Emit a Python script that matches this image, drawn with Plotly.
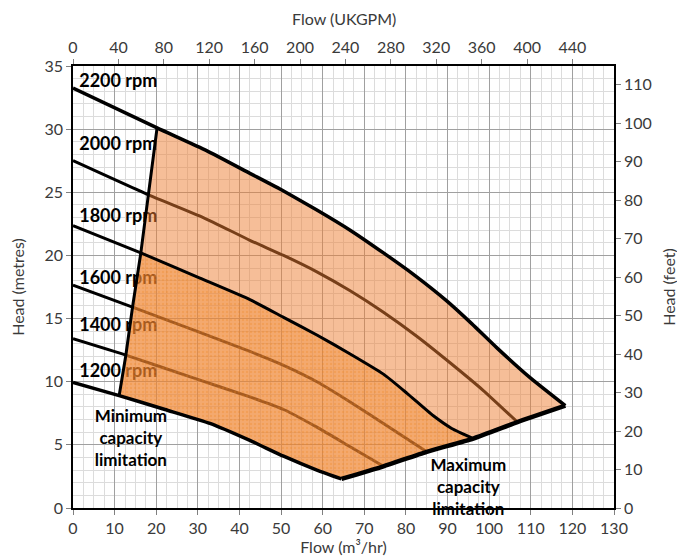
import plotly.graph_objects as go

# ---------------- data (Flow m3/hr, Head m) ----------------
rpm_labels = ["2200 rpm", "2000 rpm", "1800 rpm", "1600 rpm", "1400 rpm", "1200 rpm"]
label_heads = [33.7, 28.7, 23.0, 18.1, 14.4, 10.7]

x_2200 = [0, 20.2, 32.1, 42.5, 50.6, 58.6, 66.6, 74.6, 81.8, 89.8, 95.8, 101.8, 109.9, 118.3]
y_2200 = [33.25, 30.1, 28.3, 26.5, 25.1, 23.6, 22.0, 20.2, 18.5, 16.4, 14.6, 12.7, 10.3, 8.1]

x_2000 = [0, 18.1, 31.3, 42.5, 50.6, 58.6, 66.6, 74.6, 82.6, 90.6, 98.6, 106.8]
y_2000 = [27.5, 24.8, 23.0, 21.2, 20.0, 18.7, 17.2, 15.5, 13.6, 11.5, 9.3, 6.8]

x_1800 = [0, 16.3, 30.5, 42.5, 50.6, 58.6, 66.6, 74.6, 80.2, 86.6, 91.0, 96.2]
y_1800 = [22.35, 20.2, 18.2, 16.5, 15.1, 13.7, 12.2, 10.6, 9.1, 7.3, 6.3, 5.5]

x_1600 = [0, 14.3, 29.7, 42.5, 50.6, 58.6, 66.6, 74.6, 85.0]
y_1600 = [17.65, 15.9, 14.0, 12.4, 11.3, 10.0, 8.4, 6.7, 4.45]

x_1400 = [0, 12.7, 28.9, 42.5, 50.6, 58.6, 66.6, 74.6]
y_1400 = [13.4, 12.1, 10.3, 8.8, 7.8, 6.4, 4.85, 3.3]

x_1200 = [0, 11.1, 22.1, 32.9, 42.5, 50.6, 58.6, 64.5]
y_1200 = [9.95, 8.9, 7.8, 6.7, 5.35, 4.1, 3.0, 2.3]

x_min_cap = [20.2, 18.1, 16.3, 14.3, 12.7, 11.1]
y_min_cap = [30.1, 24.8, 20.2, 15.9, 12.1, 8.9]

x_max_cap = [64.5, 74.6, 85.0, 96.2, 106.8, 118.3]
y_max_cap = [2.3, 3.3, 4.45, 5.5, 6.8, 8.1]

M3H_TO_UKGPM = 3.666
M_TO_FT = 3.28084
X_MAX = 130
Y_MAX = 35

FONT = "Lato"
fig = go.Figure()

SPL = dict(shape="spline", smoothing=0.5)

# inner rpm curves (drawn under the fills)
for xs, ys in [(x_2000, y_2000), (x_1600, y_1600), (x_1400, y_1400)]:
    fig.add_trace(go.Scatter(x=xs, y=ys, mode="lines", line=dict(color="black", width=3, **SPL),
                             showlegend=False, hoverinfo="skip"))

# rpm labels (under the fills)
fig.add_trace(go.Scatter(x=[1.5] * len(rpm_labels), y=label_heads, text=rpm_labels, mode="text",
                         textposition="middle right",
                         textfont=dict(family=FONT, size=18, color="black", weight="bold"),
                         showlegend=False, hoverinfo="skip"))

# light operating region: 2200 curve -> max capacity -> 1200 curve -> min capacity
lx = x_2200[1:] + x_max_cap[::-1][1:] + x_1200[::-1][1:-1] + x_min_cap[::-1][1:]
ly = y_2200[1:] + y_max_cap[::-1][1:] + y_1200[::-1][1:-1] + y_min_cap[::-1][1:]
fig.add_trace(go.Scatter(x=lx, y=ly, fill="toself", mode="none",
                         fillcolor="rgba(237,125,49,0.5)", showlegend=False, hoverinfo="skip"))

# dark region (below 1800 rpm)
dx = x_1800[1:] + x_max_cap[::-1][3:] + x_1200[::-1][1:-1] + x_min_cap[::-1][1:3]
dy = y_1800[1:] + y_max_cap[::-1][3:] + y_1200[::-1][1:-1] + y_min_cap[::-1][1:3]
fig.add_trace(go.Scatter(x=dx, y=dy, fill="toself", mode="none",
                         fillcolor="rgba(237,125,49,0.45)",
                         fillpattern=dict(shape=".", size=4, solidity=0.35,
                                          fgcolor="rgba(240,130,20,0.5)",
                                          bgcolor="rgba(240,135,45,0.38)"),
                         showlegend=False, hoverinfo="skip"))

# boundary curves on top
for xs, ys, w, shp in [(x_2200, y_2200, 3.5, SPL), (x_1800, y_1800, 3, SPL), (x_1200, y_1200, 3.5, SPL),
                       (x_min_cap, y_min_cap, 3, {}), (x_max_cap, y_max_cap, 4.5, SPL)]:
    fig.add_trace(go.Scatter(x=xs, y=ys, mode="lines", line=dict(color="black", width=w, **shp),
                             showlegend=False, hoverinfo="skip"))

# limitation notes
fig.add_trace(go.Scatter(x=[13.9, 95.0], y=[5.4, 1.5],
                         text=["Minimum<br>capacity<br>limitation", "Maximum<br>capacity<br>limitation"],
                         mode="text", textposition="middle center", cliponaxis=False,
                         textfont=dict(family=FONT, size=17, color="black", weight="bold"),
                         showlegend=False, hoverinfo="skip"))

# invisible trace for secondary axes
fig.add_trace(go.Scatter(x=[0], y=[0], xaxis="x2", yaxis="y2", mode="markers",
                         marker=dict(opacity=0), showlegend=False, hoverinfo="skip"))

tickfont = dict(family=FONT, size=16, color="#3a3a3a")
titlefont = dict(family=FONT, size=16, color="#3a3a3a")

fig.update_layout(
    width=677, height=552,
    margin=dict(l=65, r=71, t=58, b=52),
    paper_bgcolor="white", plot_bgcolor="white",
    xaxis=dict(range=[0, X_MAX], dtick=10, tick0=0, showgrid=True, gridcolor="#a0a0a0", gridwidth=1,
               minor=dict(dtick=2.5, showgrid=True, gridcolor="#dcdcdc", gridwidth=1),
               showline=True, linecolor="black", linewidth=1.5, ticks="outside", ticklen=5,
               tickcolor="#808080", tickfont=tickfont, zeroline=False,
               title=dict(text="Flow (m³/hr)", font=titlefont, standoff=5), automargin=False),
    xaxis2=dict(range=[0, X_MAX * M3H_TO_UKGPM], dtick=40, tick0=0, overlaying="x", side="top",
                anchor="y", showgrid=False, showline=True, linecolor="black", linewidth=1.5,
                ticks="outside", ticklen=5, tickcolor="#808080", tickfont=tickfont, zeroline=False,
                automargin=False),
    yaxis=dict(range=[0, Y_MAX], dtick=5, tick0=0, showgrid=True, gridcolor="#a0a0a0", gridwidth=1,
               minor=dict(dtick=1, showgrid=True, gridcolor="#dcdcdc", gridwidth=1),
               showline=True, linecolor="black", linewidth=1.5, ticks="outside", ticklen=5,
               tickcolor="#808080", tickfont=tickfont, zeroline=False,
               title=dict(text="Head (metres)", font=titlefont, standoff=17), automargin=False),
    yaxis2=dict(range=[0, Y_MAX * M_TO_FT], dtick=10, tick0=0, overlaying="y", side="right",
                anchor="x", showgrid=False, showline=True, linecolor="black", linewidth=1.5,
                ticks="outside", ticklen=5, tickcolor="#808080", tickfont=tickfont, zeroline=False,
                title=dict(text="Head (feet)", font=titlefont, standoff=13), automargin=False),
    annotations=[dict(text="Flow (UKGPM)", xref="paper", yref="paper", x=0.5, y=1,
                      xanchor="center", yanchor="middle", yshift=48, showarrow=False,
                      font=titlefont)],
)

fig.write_html("out.html")
